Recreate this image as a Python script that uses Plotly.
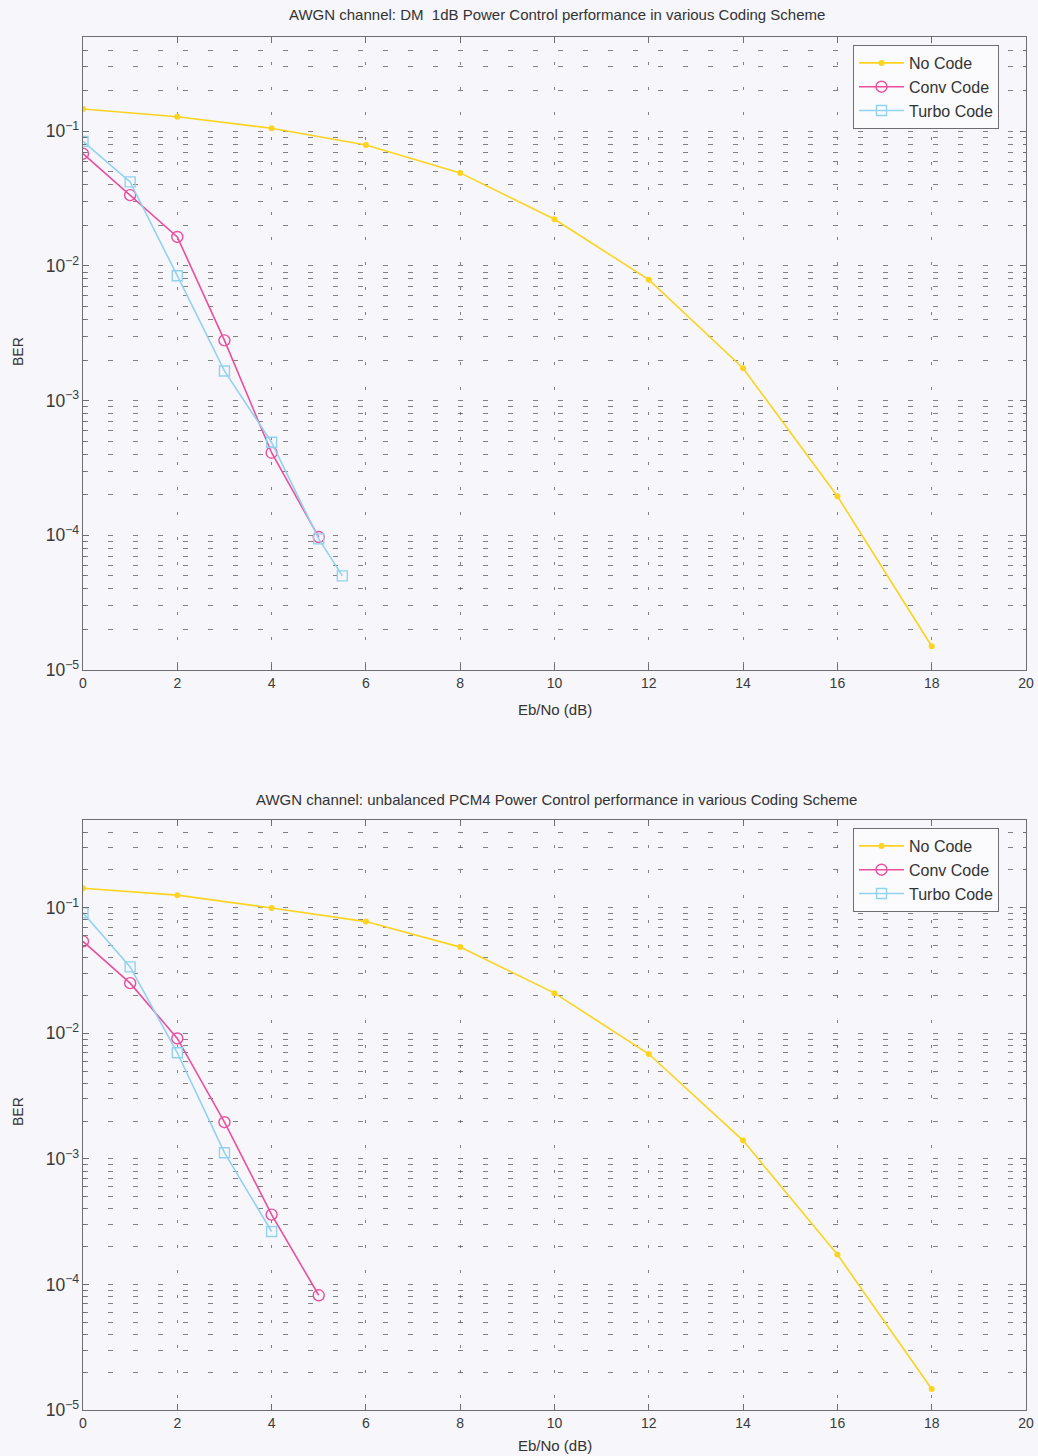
import plotly.graph_objects as go
from plotly.subplots import make_subplots

# Eb/No sample points (dB)
ebno_uncoded = [0, 2, 4, 6, 8, 10, 12, 14, 16, 18]
ebno_conv = [0, 1, 2, 3, 4, 5]
ebno_turbo_dm = [0, 1, 2, 3, 4, 5, 5.5]
ebno_turbo_pcm = [0, 1, 2, 3, 4]

# DM 1dB power control
ber_dm_uncoded = [0.146, 0.128, 0.105, 0.079, 0.049, 0.0222, 0.0079, 0.00174, 1.95e-4, 1.5e-5]
ber_dm_conv = [0.068, 0.0335, 0.0164, 0.0028, 4.1e-4, 9.7e-5]
ber_dm_turbo = [0.084, 0.042, 0.00845, 0.00166, 4.9e-4, 9.4e-5, 5.0e-5]

# Unbalanced PCM4 power control
ber_pcm_uncoded = [0.143, 0.126, 0.0995, 0.0776, 0.0486, 0.0209, 0.00684, 0.0014, 1.73e-4, 1.47e-5]
ber_pcm_conv = [0.054, 0.0251, 0.0091, 0.00196, 3.6e-4, 8.2e-5]
ber_pcm_turbo = [0.0912, 0.0338, 0.0070, 0.00112, 2.64e-4]

series_names = ["No Code", "Conv Code", "Turbo Code"]
titles = [
    "AWGN channel: DM  1dB Power Control performance in various Coding Scheme",
    "AWGN channel: unbalanced PCM4 Power Control performance in various Coding Scheme",
]
x_ticks = [0, 2, 4, 6, 8, 10, 12, 14, 16, 18, 20]

YELLOW = "#fcd41e"
PINK = "#ea4f9d"
BLUE = "#92d2ef"
BG = "#f7f6fa"
GRID = "rgba(90,90,90,0.75)"
AXIS = "#6e6e72"
FONT = "Liberation Sans, Arial, sans-serif"

W, H = 1038, 1456
L, R, T, B = 83, 12, 37, 46
plot_h = H - T - B
plot_w = W - L - R


def fy(p):
    """Pixel row -> paper fraction."""
    return (H - B - p) / plot_h


fig = make_subplots(rows=2, cols=1)

panels = [
    (ebno_uncoded, ber_dm_uncoded, ebno_conv, ber_dm_conv, ebno_turbo_dm, ber_dm_turbo),
    (ebno_uncoded, ber_pcm_uncoded, ebno_conv, ber_pcm_conv, ebno_turbo_pcm, ber_pcm_turbo),
]

for i, (xu, yu, xc, yc, xt, yt) in enumerate(panels):
    row = i + 1
    leg = "legend" if i == 0 else "legend2"
    fig.add_trace(go.Scatter(
        x=xu, y=yu, name=series_names[0], mode="lines+markers",
        line=dict(color=YELLOW, width=1.6),
        marker=dict(symbol="circle", size=6, color=YELLOW),
        legend=leg,
    ), row=row, col=1)
    fig.add_trace(go.Scatter(
        x=xc, y=yc, name=series_names[1], mode="lines+markers",
        line=dict(color=PINK, width=1.6),
        marker=dict(symbol="circle-open", size=11, color=PINK, line=dict(width=1.4)),
        legend=leg,
    ), row=row, col=1)
    fig.add_trace(go.Scatter(
        x=xt, y=yt, name=series_names[2], mode="lines+markers",
        line=dict(color=BLUE, width=1.6),
        marker=dict(symbol="square-open", size=10, color=BLUE, line=dict(width=1.4)),
        legend=leg,
    ), row=row, col=1)

domains = [[fy(670), fy(37)], [fy(1410), fy(820)]]

xaxis_common = dict(
    range=[0, 20], tickvals=x_ticks, ticks="inside", ticklen=6, tickcolor=AXIS,
    showline=True, linecolor=AXIS, linewidth=1, mirror="allticks",
    showgrid=True, gridcolor=GRID, gridwidth=1, griddash="3px,22px",
    zeroline=False, automargin=False,
    tickfont=dict(family=FONT, size=14, color="#3a3a3a"),
)
yaxis_common = dict(
    type="log", range=[-5, -0.301], dtick=1, exponentformat="power",
    ticks="inside", ticklen=6, tickcolor=AXIS,
    showline=True, linecolor=AXIS, linewidth=1, mirror="allticks",
    showgrid=True, gridcolor=GRID, gridwidth=1, griddash="5px,20px",
    minor=dict(dtick="D1", ticks="inside", ticklen=3, tickcolor=AXIS,
               showgrid=True, gridcolor=GRID, gridwidth=1, griddash="5px,20px"),
    zeroline=False, automargin=False,
    tickfont=dict(family=FONT, size=14, color="#3a3a3a"),
)

fig.update_layout(
    xaxis=dict(domain=[0, 1], anchor="y", **xaxis_common),
    yaxis=dict(domain=domains[0], anchor="x", **yaxis_common),
    xaxis2=dict(domain=[0, 1], anchor="y2", **xaxis_common),
    yaxis2=dict(domain=domains[1], anchor="x2", **yaxis_common),
)

legend_style = dict(
    xanchor="right", yanchor="top", x=(999 - L) / plot_w,
    bgcolor="#fbfbfd", bordercolor="#6e6e72", borderwidth=1,
    font=dict(family=FONT, size=16, color="#333333"),
    tracegroupgap=0, itemwidth=45, entrywidth=140,
)
fig.update_layout(
    legend=dict(y=fy(45), **legend_style),
    legend2=dict(y=fy(828), **legend_style),
)

annotations = []
for title, ty in zip(titles, [15, 799]):
    annotations.append(dict(
        text=title, x=0.5025, y=fy(ty), xref="paper", yref="paper",
        showarrow=False, xanchor="center", yanchor="middle",
        font=dict(family=FONT, size=15, color="#333333"),
    ))
for xy in [709, 1445]:
    annotations.append(dict(
        text="Eb/No (dB)", x=0.5, y=fy(xy), xref="paper", yref="paper",
        showarrow=False, xanchor="center", yanchor="middle",
        font=dict(family=FONT, size=15, color="#333333"),
    ))
for by in [352, 1112]:
    annotations.append(dict(
        text="BER", x=(18 - L) / plot_w, y=fy(by), xref="paper", yref="paper",
        showarrow=False, xanchor="center", yanchor="middle", textangle=-90,
        font=dict(family=FONT, size=14, color="#333333"),
    ))

fig.update_layout(
    width=W, height=H,
    margin=dict(l=L, r=R, t=T, b=B, autoexpand=False),
    paper_bgcolor=BG, plot_bgcolor=BG,
    showlegend=True,
    annotations=annotations,
)

fig.write_html("out.html")
